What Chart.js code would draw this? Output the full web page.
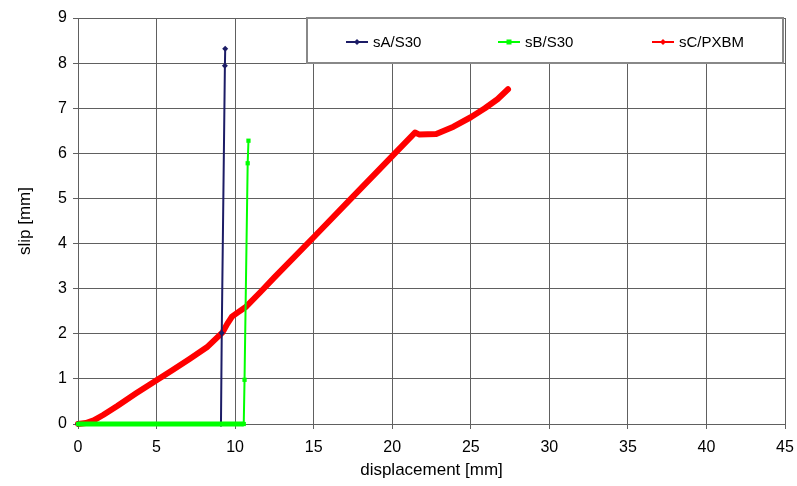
<!DOCTYPE html>
<html>
<head>
<meta charset="utf-8">
<script src="https://cdn.jsdelivr.net/npm/chart.js@4.4.0/dist/chart.umd.min.js"></script>
<style>
  html, body { margin: 0; padding: 0; background: #fff; }
  #wrap { width: 797px; height: 486px; }
</style>
</head>
<body>
<div id="wrap"><canvas id="chart" width="797" height="486"></canvas></div>
<script>
// ========== 数据 ==========
const xTicks = [0, 5, 10, 15, 20, 25, 30, 35, 40, 45];
const yTicks = [0, 1, 2, 3, 4, 5, 6, 7, 8, 9];

const seriesNames = ['sA/S30', 'sB/S30', 'sC/PXBM'];

const sA_x = [0, 9.1, 9.15, 9.35, 9.37];
const sA_y = [0, 0, 2.02, 7.94, 8.32];

const sB_x = [0, 10.55, 10.6, 10.8, 10.85];
const sB_y = [0, 0, 0.98, 5.78, 6.28];

const sC_x = [0, 0.5, 1.0, 1.6, 2.5, 3.7, 5.0, 6.0, 7.1, 8.2, 9.2, 9.5, 9.8, 10.2, 10.7, 11.6, 12.5, 15.0, 17.5, 20.0, 21.45, 21.7, 22.8, 23.9, 25.0, 25.9, 26.7, 27.37];
const sC_y = [0, 0.02, 0.08, 0.2, 0.4, 0.68, 0.97, 1.19, 1.44, 1.7, 2.03, 2.22, 2.38, 2.48, 2.6, 2.92, 3.25, 4.14, 5.04, 5.94, 6.46, 6.42, 6.43, 6.59, 6.8, 7.0, 7.2, 7.42];

const colA = '#1c1c66';
const colB = '#00ff00';
const colC = '#ff0000';
const gridCol = '#606060';
const fontFamily = '"Liberation Sans", Arial, sans-serif';

const toPoints = (xs, ys) => xs.map((x, i) => ({ x, y: ys[i] }));

// ========== 图例(框内) ==========
const boxLegend = {
    id: 'boxLegend',
    afterDraw(chart) {
        const { ctx, chartArea } = chart;
        const left = chartArea.left + 229;
        const top = chartArea.top;
        const right = chartArea.right - 2;
        const bottom = chartArea.top + 45;
        ctx.save();
        ctx.fillStyle = '#fff';
        ctx.fillRect(left, top, right - left, bottom - top);
        ctx.strokeStyle = '#888';
        ctx.lineWidth = 2;
        ctx.strokeRect(left, top, right - left, bottom - top);

        const offsets = [39, 191, 345];
        const colors = [colA, colB, colC];
        const cy = top + 24;
        ctx.font = '15px ' + fontFamily;
        ctx.textBaseline = 'middle';
        ctx.textAlign = 'left';
        offsets.forEach((off, i) => {
            const x0 = left + off;
            ctx.strokeStyle = colors[i];
            ctx.lineWidth = 2;
            ctx.beginPath();
            ctx.moveTo(x0, cy);
            ctx.lineTo(x0 + 22, cy);
            ctx.stroke();
            ctx.fillStyle = colors[i];
            const mx = x0 + 11;
            if (i === 1) {
                ctx.fillRect(mx - 2.5, cy - 2.5, 5, 5);
            } else {
                ctx.beginPath();
                ctx.moveTo(mx, cy - 3);
                ctx.lineTo(mx + 3, cy);
                ctx.lineTo(mx, cy + 3);
                ctx.lineTo(mx - 3, cy);
                ctx.closePath();
                ctx.fill();
            }
            ctx.fillStyle = '#000';
            ctx.fillText(seriesNames[i], x0 + 27, cy + 1);
        });
        ctx.restore();
    }
};

// ========== 图表 ==========
const ctx = document.getElementById('chart').getContext('2d');
new Chart(ctx, {
    type: 'line',
    data: {
        datasets: [
            {
                label: seriesNames[0],
                data: toPoints(sA_x, sA_y),
                borderColor: colA,
                backgroundColor: colA,
                borderWidth: 2,
                pointStyle: 'rectRot',
                pointRadius: 3,
                pointBorderWidth: 0,
                clip: false,
                order: 1
            },
            {
                label: seriesNames[1],
                data: toPoints(sB_x, sB_y),
                borderColor: colB,
                backgroundColor: colB,
                borderWidth: 2,
                pointStyle: 'rect',
                pointRadius: 3,
                pointBorderWidth: 0,
                segment: {
                    borderWidth: c => (c.p0.parsed.y === 0 && c.p1.parsed.y === 0 ? 5 : 2)
                },
                clip: false,
                order: 0
            },
            {
                label: seriesNames[2],
                data: toPoints(sC_x, sC_y),
                borderColor: colC,
                backgroundColor: colC,
                borderWidth: 6,
                borderJoinStyle: 'round',
                borderCapStyle: 'round',
                pointRadius: 0,
                clip: false,
                order: 2
            }
        ]
    },
    options: {
        responsive: false,
        animation: false,
        layout: { padding: { top: 18, right: 12, left: 0, bottom: 0 } },
        plugins: {
            legend: { display: false },
            tooltip: { enabled: false }
        },
        scales: {
            x: {
                type: 'linear',
                min: xTicks[0],
                max: xTicks[xTicks.length - 1],
                afterBuildTicks: s => { s.ticks = xTicks.map(v => ({ value: v })); },
                afterFit: s => { s.height = 62; s.paddingLeft = 0; s.paddingRight = 0; },
                ticks: {
                    color: '#000',
                    font: { family: fontFamily, size: 16 },
                    padding: 9,
                    maxRotation: 0,
                    autoSkip: false
                },
                grid: { color: gridCol, lineWidth: 1, tickLength: 5 },
                border: { color: gridCol, width: 1 },
                title: {
                    display: true,
                    text: 'displacement [mm]',
                    color: '#000',
                    font: { family: fontFamily, size: 17 },
                    padding: { top: 0, bottom: 5 }
                }
            },
            y: {
                type: 'linear',
                min: yTicks[0],
                max: yTicks[yTicks.length - 1],
                afterBuildTicks: s => { s.ticks = yTicks.map(v => ({ value: v })); },
                afterFit: s => { s.width = 78; s.paddingTop = 0; s.paddingBottom = 0; },
                ticks: {
                    color: '#000',
                    font: { family: fontFamily, size: 16 },
                    padding: 6,
                    autoSkip: false
                },
                grid: { color: gridCol, lineWidth: 1, tickLength: 5 },
                border: { color: gridCol, width: 1 },
                title: {
                    display: true,
                    text: 'slip [mm]',
                    color: '#000',
                    font: { family: fontFamily, size: 17 },
                    padding: { top: 15, bottom: 0 }
                }
            }
        }
    },
    plugins: [boxLegend]
});
</script>
</body>
</html>
